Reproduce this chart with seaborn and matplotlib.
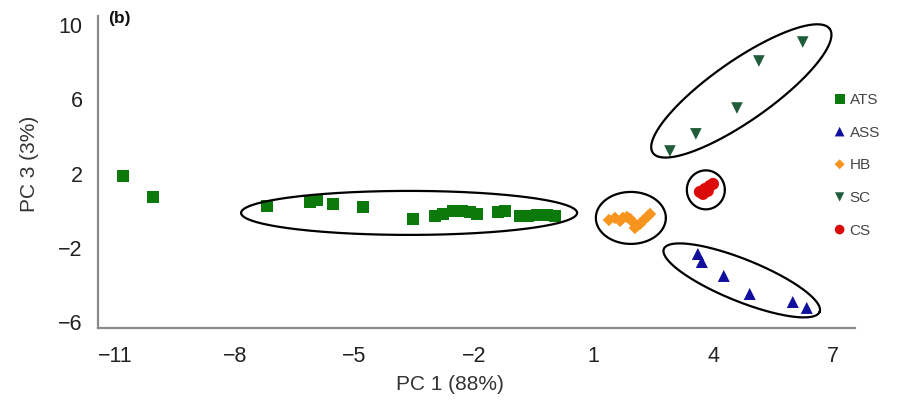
import numpy as np
import pandas as pd
import matplotlib
matplotlib.use("Agg")
import matplotlib.pyplot as plt
import seaborn as sns

# ---- data ----
groups = ["ATS", "ASS", "HB", "SC", "CS"]

ats_pc1 = [-10.80, -10.05, -7.19, -6.11, -5.94, -5.54, -4.78, -3.53, -2.98, -2.78, -2.53,
           -2.30, -2.10, -1.93, -1.40, -1.23, -0.85, -0.65, -0.42, -0.17, 0.03]
ats_pc3 = [1.83, 0.70, 0.22, 0.43, 0.54, 0.32, 0.16, -0.48, -0.32, -0.22, -0.05,
           -0.05, -0.11, -0.22, -0.11, -0.05, -0.32, -0.32, -0.27, -0.27, -0.32]

ass_pc1 = [3.61, 3.71, 4.26, 4.91, 5.99, 6.34]
ass_pc3 = [-2.37, -2.80, -3.55, -4.52, -4.95, -5.27]

hb_pc1 = [1.38, 1.53, 1.66, 1.73, 1.83, 1.91, 1.98, 2.08, 2.03, 2.16, 2.23, 2.36, 2.41]
hb_pc3 = [-0.54, -0.43, -0.59, -0.43, -0.38, -0.48, -0.65, -0.86, -0.97, -0.75, -0.59, -0.32, -0.22]

sc_pc1 = [2.91, 3.56, 4.59, 5.14, 6.24]
sc_pc3 = [3.17, 4.09, 5.48, 8.01, 9.03]

cs_pc1 = [3.66, 3.79, 3.91, 3.99, 3.74, 3.86]
cs_pc3 = [0.97, 1.13, 1.29, 1.40, 0.86, 1.02]

x_ticks = [-11, -8, -5, -2, 1, 4, 7]
y_ticks = [-6, -2, 2, 6, 10]

df = pd.concat([
    pd.DataFrame({"pc1": ats_pc1, "pc3": ats_pc3, "group": "ATS"}),
    pd.DataFrame({"pc1": ass_pc1, "pc3": ass_pc3, "group": "ASS"}),
    pd.DataFrame({"pc1": hb_pc1, "pc3": hb_pc3, "group": "HB"}),
    pd.DataFrame({"pc1": sc_pc1, "pc3": sc_pc3, "group": "SC"}),
    pd.DataFrame({"pc1": cs_pc1, "pc3": cs_pc3, "group": "CS"}),
], ignore_index=True)

# ---- style ----
colors = {"ATS": "#0b7a0b", "ASS": "#10109c", "HB": "#f7941d", "SC": "#1f5c3a", "CS": "#dd0a0a"}
markers = {"ATS": "s", "ASS": "^", "HB": "D", "SC": "v", "CS": "o"}
sizes = {"ATS": 80, "ASS": 75, "HB": 40, "SC": 70, "CS": 75}

sns.set_theme(style="white")
plt.rcParams["font.family"] = ["Liberation Sans", "DejaVu Sans"]

fig = plt.figure(figsize=(9.09, 4.02), dpi=100)
ax = fig.add_axes([0.1078, 0.1816, 0.8328, 0.7761])

for g in groups:
    sub = df[df["group"] == g]
    sns.scatterplot(data=sub, x="pc1", y="pc3", marker=markers[g], color=colors[g],
                    s=sizes[g], edgecolor="none", linewidth=0, label=g, ax=ax)

ax.set_xlim(-11.43, 7.55)
ax.set_ylim(-6.35, 10.43)
ax.set_xticks(x_ticks)
ax.set_yticks(y_ticks)
ax.set_xticklabels([f"{v}".replace("-", "\u2212") for v in x_ticks])
ax.set_yticklabels([f"{v}".replace("-", "\u2212") for v in y_ticks])

for s in ["top", "right"]:
    ax.spines[s].set_visible(False)
for s in ["left", "bottom"]:
    ax.spines[s].set_color("#8a8a8a")
    ax.spines[s].set_linewidth(1.6)

ax.tick_params(axis="x", length=0, pad=12, labelsize=15.5, labelcolor="#222222")
ax.tick_params(axis="y", length=0, pad=11, labelsize=15.5, labelcolor="#222222")

ax.set_xlabel("PC 1 (88%)", fontsize=15, color="#333333")
ax.set_ylabel("PC 3 (3%)", fontsize=15, color="#333333")
ax.xaxis.set_label_coords(0.465, -0.148)
ax.yaxis.set_label_coords(-0.078, 0.53)

ax.text(0.013, 1.018, "(b)", transform=ax.transAxes, fontsize=12.5, fontweight="bold",
        ha="left", va="top", color="#111111")

# cluster ellipses (drawn in pixel space around cluster centres)
def ellipse(cx, cy, a, b, ang):
    t = np.linspace(0, 2 * np.pi, 400)
    c = ax.transData.transform((cx, cy))
    u = a * np.cos(t)
    v = b * np.sin(t)
    th = np.deg2rad(ang)
    dx = u * np.cos(th) - v * np.sin(th)
    dy = u * np.sin(th) + v * np.cos(th)
    pts = ax.transData.inverted().transform(np.column_stack([c[0] + dx, c[1] + dy]))
    ax.plot(pts[:, 0], pts[:, 1], color="black", lw=1.6)

ellipse(-3.63, -0.16, 168, 22, 0)
ellipse(1.93, -0.43, 35, 26, 0)
ellipse(3.81, 1.08, 19, 19.5, 0)
ellipse(4.70, 6.40, 108, 30, 35)
ellipse(4.71, -3.79, 84, 21, -22)

leg = ax.legend(loc="upper left", bbox_to_anchor=(832 / 909, 1 - 93 / 402),
                bbox_transform=fig.transFigure, frameon=False, fontsize=11,
                handletextpad=0.15, labelspacing=1.22, markerscale=0.8,
                borderpad=0, borderaxespad=0, handlelength=1.0)
for t in leg.get_texts():
    t.set_color("#444444")

fig.savefig("out.png", dpi=100)
